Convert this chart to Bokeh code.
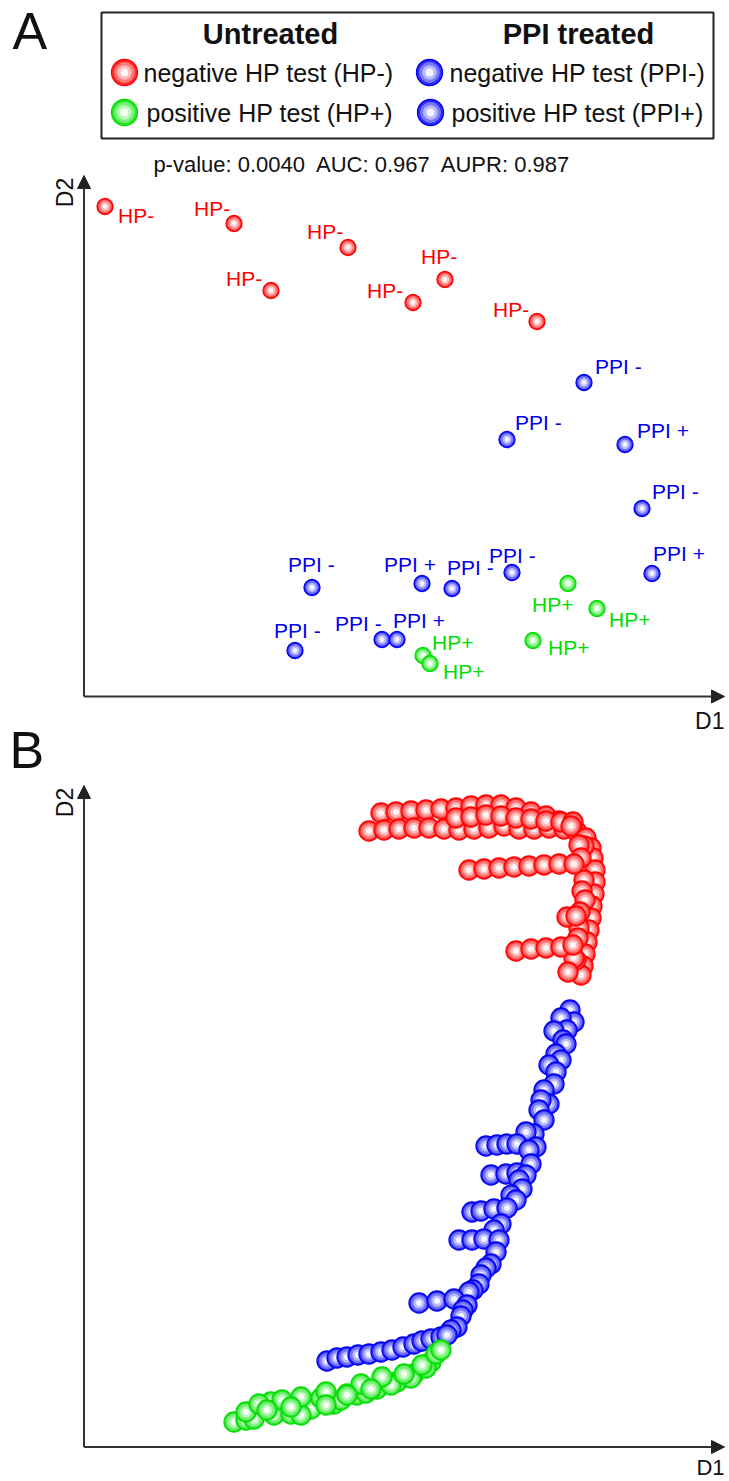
import numpy as np
from bokeh.plotting import figure
from bokeh.models import Range1d, Arrow, NormalHead, ColumnDataSource
from bokeh.core.properties import value
from bokeh.embed import file_html
from bokeh.resources import INLINE

FONT = "Liberation Sans"

# ---------------- Panel A data (MDS coordinates D1, D2) ----------------
a_neg_d1 = [0.21, 1.50, 2.64, 1.87, 3.29, 3.61, 4.53]
a_neg_d2 = [4.90, 4.73, 4.49, 4.06, 3.94, 4.17, 3.75]
a_neg_lab = ["HP-"] * 7

a_ppi_d1 = [5.00, 4.23, 5.41, 5.58, 5.68, 4.28, 3.68, 3.38, 2.28, 2.11, 2.98, 3.13]
a_ppi_d2 = [3.14, 2.57, 2.52, 1.88, 1.23, 1.24, 1.08, 1.13, 1.09, 0.46, 0.57, 0.57]
a_ppi_lab = ["PPI -", "PPI -", "PPI +", "PPI -", "PPI +", "PPI -",
             "PPI -", "PPI +", "PPI -", "PPI -", "PPI -", "PPI +"]

a_pos_d1 = [4.84, 5.13, 4.49, 3.39, 3.46]
a_pos_d2 = [1.13, 0.88, 0.56, 0.41, 0.33]
a_pos_lab = ["HP+"] * 5

# label placement (screen pixels, left edge / vertical centre relative to point)
neg_off_x = [13, -40, -41, -45, -46, -24, -44]
neg_off_y = [9, -15, -16, -12, -12, -23, -12]
ppi_off_x = [11, 8, 12, 10, 1, -23, -5, -38, -24, -21, -47, -4]
ppi_off_y = [-16, -17, -14, -17, -20, -17, -21, -19, -23, -20, -16, -19]
pos_off_x = [-36, 12, 15, 9, 13]
pos_off_y = [21, 11, 7, -13, 8]

stats_text = "p-value: 0.0040\u00a0 AUC: 0.967\u00a0 AUPR: 0.987"
legend_titles = ["Untreated", "PPI treated"]
legend_labels = ["negative HP test (HP-)", "positive HP test (HP+)",
                 "negative HP test (PPI-)", "positive HP test (PPI+)"]

# ---------------- Panel B data ----------------
b_neg_d1 = [2.97, 3.12, 3.27, 3.42, 3.57, 3.72, 3.87, 4.02, 4.17, 4.32, 4.47, 4.62, 4.75,
            2.85, 3.00, 3.15, 3.30, 3.45, 3.60, 3.75, 3.90, 4.05, 4.20, 4.35, 4.50, 4.65, 4.80, 4.93,
            3.72, 3.87, 4.02, 4.17, 4.32, 4.47, 4.62, 4.77, 4.89, 4.87,
            5.02, 5.07, 5.09, 5.11, 5.11, 5.10, 5.08, 5.07, 5.05, 5.03, 5.01, 4.99, 4.97,
            5.00, 4.95, 4.97, 5.00, 4.98, 5.01, 4.96, 4.95, 4.94, 4.92, 4.90,
            3.85, 4.00, 4.15, 4.30, 4.45, 4.60, 4.75, 4.90,
            4.83, 4.92,
            4.32, 4.47, 4.62, 4.77, 4.89,
            4.84]
b_neg_d2 = [6.34, 6.35, 6.36, 6.37, 6.38, 6.39, 6.41, 6.42, 6.42, 6.39, 6.35, 6.31, 6.26,
            6.16, 6.17, 6.18, 6.19, 6.19, 6.18, 6.17, 6.18, 6.19, 6.21, 6.18, 6.18, 6.19, 6.18, 6.15,
            6.29, 6.30, 6.32, 6.31, 6.29, 6.28, 6.26, 6.25, 6.25, 6.21,
            6.09, 5.99, 5.89, 5.77, 5.65, 5.53, 5.41, 5.29, 5.17, 5.05, 4.93, 4.81, 4.72,
            6.01, 6.02, 5.89, 5.67, 5.56, 5.47, 5.35, 5.19, 5.09, 4.87, 4.89,
            5.77, 5.78, 5.79, 5.80, 5.81, 5.82, 5.83, 5.83,
            5.30, 5.31,
            4.96, 4.98, 4.99, 5.00, 5.02,
            4.75]

b_ppi_d1 = [4.86, 4.90, 4.77, 4.83, 4.70, 4.79, 4.82, 4.72, 4.77, 4.65, 4.72, 4.70, 4.60,
            4.65, 4.57, 4.55, 4.60, 4.50, 4.42,
            4.02, 4.13, 4.23, 4.33,
            4.52, 4.45, 4.47,
            4.07, 4.22, 4.33,
            4.42, 4.35, 4.38, 4.27, 4.32,
            3.88, 3.97, 4.10, 4.23,
            4.17, 4.10,
            3.75, 3.88, 4.00,
            4.15, 4.12, 4.07, 4.02, 3.97, 3.95, 3.89, 3.85,
            3.35, 3.53, 3.70,
            3.83, 3.79, 3.77, 3.73, 3.67,
            2.43, 2.53, 2.63, 2.74, 2.85, 2.97, 3.08, 3.19, 3.30, 3.38, 3.47, 3.57,
            3.63]
b_ppi_d2 = [4.37, 4.25, 4.29, 4.17, 4.16, 4.07, 4.03, 3.93, 3.87, 3.82, 3.75, 3.63, 3.57,
            3.43, 3.47, 3.37, 3.27, 3.13, 3.15,
            3.01, 3.02, 3.03, 3.03,
            3.00, 2.97, 2.83,
            2.72, 2.73, 2.74,
            2.72, 2.67, 2.58, 2.52, 2.47,
            2.35, 2.36, 2.38, 2.39,
            2.23, 2.17,
            2.07, 2.07, 2.08,
            2.07, 1.95, 1.83, 1.79, 1.72, 1.63, 1.57, 1.55,
            1.44, 1.46, 1.48,
            1.42, 1.37, 1.31, 1.20, 1.17,
            0.86, 0.89, 0.90, 0.92, 0.93, 0.95, 0.97, 1.00, 1.03, 1.06, 1.08, 1.10,
            1.12]

b_pos_d1 = [1.50, 1.62, 1.70, 1.90, 2.07, 2.27, 2.50, 2.73, 2.93, 3.13, 3.30, 3.47,
            1.62, 1.87, 2.17, 2.37, 2.57, 2.82, 3.07, 3.27, 3.42,
            1.75, 1.98, 2.17, 2.42, 2.63, 2.77, 2.98, 3.20, 3.38, 3.52,
            1.83, 2.07, 2.42, 2.63, 2.87, 3.57]
b_pos_d2 = [0.25, 0.27, 0.28, 0.32, 0.33, 0.38, 0.43, 0.52, 0.58, 0.65, 0.73, 0.85,
            0.35, 0.45, 0.32, 0.49, 0.47, 0.54, 0.62, 0.69, 0.79,
            0.43, 0.47, 0.50, 0.55, 0.53, 0.63, 0.70, 0.73, 0.82, 0.93,
            0.37, 0.40, 0.42, 0.52, 0.58, 0.97]

# ---------------- styles ----------------
RED = dict(pal=["#ff2e2e", "#ff7878", "#ffbaba", "#fff4f4"], edge="#ff0000", text="#ff0000")
GREEN = dict(pal=["#2ee62e", "#78f078", "#baf8ba", "#f4fff4"], edge="#00dd00", text="#00dd00")
BLUE = dict(pal=["#2e2eff", "#7878ff", "#babaff", "#f4f4ff"], edge="#0000ee", text="#0000ee")
AXIS_COL = "#333333"

W = 729
H = 1481
OX = 83.5          # page pixel of D1 = 0 (both panels)
A_OY = 696.0       # page pixel of D2 = 0 in panel A
B_OY = 1446.5      # page pixel of D2 = 0 in panel B


def px(x):
    return (x - OX) / 100.0


def pyA(y):
    return (A_OY - y) / 100.0


def pyB(y):
    return (B_OY - y) / 100.0


# one canvas; panel A uses the default y range, panel B its own y range "B"
p = figure(width=W, height=H, output_backend="svg", toolbar_location=None,
           x_range=Range1d(px(0), px(W)), y_range=Range1d(pyA(H), pyA(0)),
           x_axis_type=None, y_axis_type=None, min_border=0,
           outline_line_color=None, background_fill_color="white",
           border_fill_color="white")
p.extra_y_ranges = {"B": Range1d(pyB(H), pyB(0))}
p.grid.visible = False


def balls(d1, d2, size, sty, rng="default"):
    fr = [1.0, 0.8, 0.56, 0.3]
    xs, ys, ss, fc, lc, la = [], [], [], [], [], []
    for x, y in zip(d1, d2):
        for k, f in enumerate(fr):
            xs.append(x)
            ys.append(y)
            ss.append(size * f)
            fc.append(sty["pal"][k])
            lc.append(sty["edge"] if k == 0 else sty["pal"][k])
            la.append(1.0 if k == 0 else 0.0)
    src = ColumnDataSource(dict(x=xs, y=ys, s=ss, f=fc, l=lc, a=la))
    p.scatter(x="x", y="y", size="s", fill_color="f", line_color="l",
              line_alpha="a", line_width=1.3, source=src, y_range_name=rng)


def labels(d1, d2, txt_, ox, oy, sty):
    src = ColumnDataSource(dict(x=d1, y=d2, t=txt_, ox=ox, oy=oy))
    p.text(x="x", y="y", text="t", x_offset="ox", y_offset="oy", source=src,
           text_color=sty["text"], text_font=value(FONT), text_font_size="21px",
           text_align="left", text_baseline="middle")


def txt(x, y, s, size, align="left", bold=False, angle=0.0, color="#111111",
        rng="default"):
    p.text(x=[x], y=[y], text=[s], text_font=value(FONT), text_font_size=size,
           text_font_style="bold" if bold else "normal", text_align=align,
           text_baseline="middle", text_color=color, angle=angle, y_range_name=rng)


def axes(ytip, rng="default"):
    for xe, ye in [(px(724), 0), (0, ytip)]:
        p.add_layout(Arrow(end=NormalHead(size=13, fill_color="#222222",
                                          line_color="#222222", line_width=1),
                           x_start=0, y_start=0, x_end=xe, y_end=ye,
                           line_width=2, line_color=AXIS_COL, y_range_name=rng))


# ================= Panel A =================
axes(pyA(175))
txt(px(12), pyA(30), "A", "52px")
txt(px(724), pyA(720), "D1", "23px", align="right")
txt(px(64), pyA(192), "D2", "23px", align="center", angle=np.pi / 2)

# legend box
p.quad(left=[px(101)], right=[px(713)], top=[pyA(12)], bottom=[pyA(138)],
       fill_color=None, line_color="#222222", line_width=2)
txt(px(270), pyA(33), legend_titles[0], "29px", align="center", bold=True)
txt(px(578), pyA(33), legend_titles[1], "29px", align="center", bold=True)
balls([px(124)], [pyA(72)], 26, RED)
balls([px(124)], [pyA(112)], 26, GREEN)
balls([px(429)], [pyA(72)], 26, BLUE)
balls([px(430)], [pyA(112)], 26, BLUE)
txt(px(143), pyA(72), legend_labels[0], "25px")
txt(px(146), pyA(112), legend_labels[1], "25px")
txt(px(449), pyA(72), legend_labels[2], "25px")
txt(px(451), pyA(112), legend_labels[3], "25px")
txt(px(362), pyA(164), stats_text, "22px", align="center")

balls(a_neg_d1, a_neg_d2, 16, RED)
balls(a_ppi_d1, a_ppi_d2, 16, BLUE)
balls(a_pos_d1, a_pos_d2, 16, GREEN)
labels(a_neg_d1, a_neg_d2, a_neg_lab, neg_off_x, neg_off_y, RED)
labels(a_ppi_d1, a_ppi_d2, a_ppi_lab, ppi_off_x, ppi_off_y, BLUE)
labels(a_pos_d1, a_pos_d2, a_pos_lab, pos_off_x, pos_off_y, GREEN)

# ================= Panel B =================
axes(pyB(785), "B")
txt(px(9), pyB(749), "B", "52px", rng="B")
txt(px(724), pyB(1467), "D1", "22px", align="right", rng="B")
txt(px(64), pyB(802), "D2", "23px", align="center", angle=np.pi / 2, rng="B")

balls(b_neg_d1, b_neg_d2, 20, RED, "B")
balls(b_ppi_d1, b_ppi_d2, 20, BLUE, "B")
balls(b_pos_d1, b_pos_d2, 20, GREEN, "B")

open("out.html", "w").write(file_html(p, INLINE))
